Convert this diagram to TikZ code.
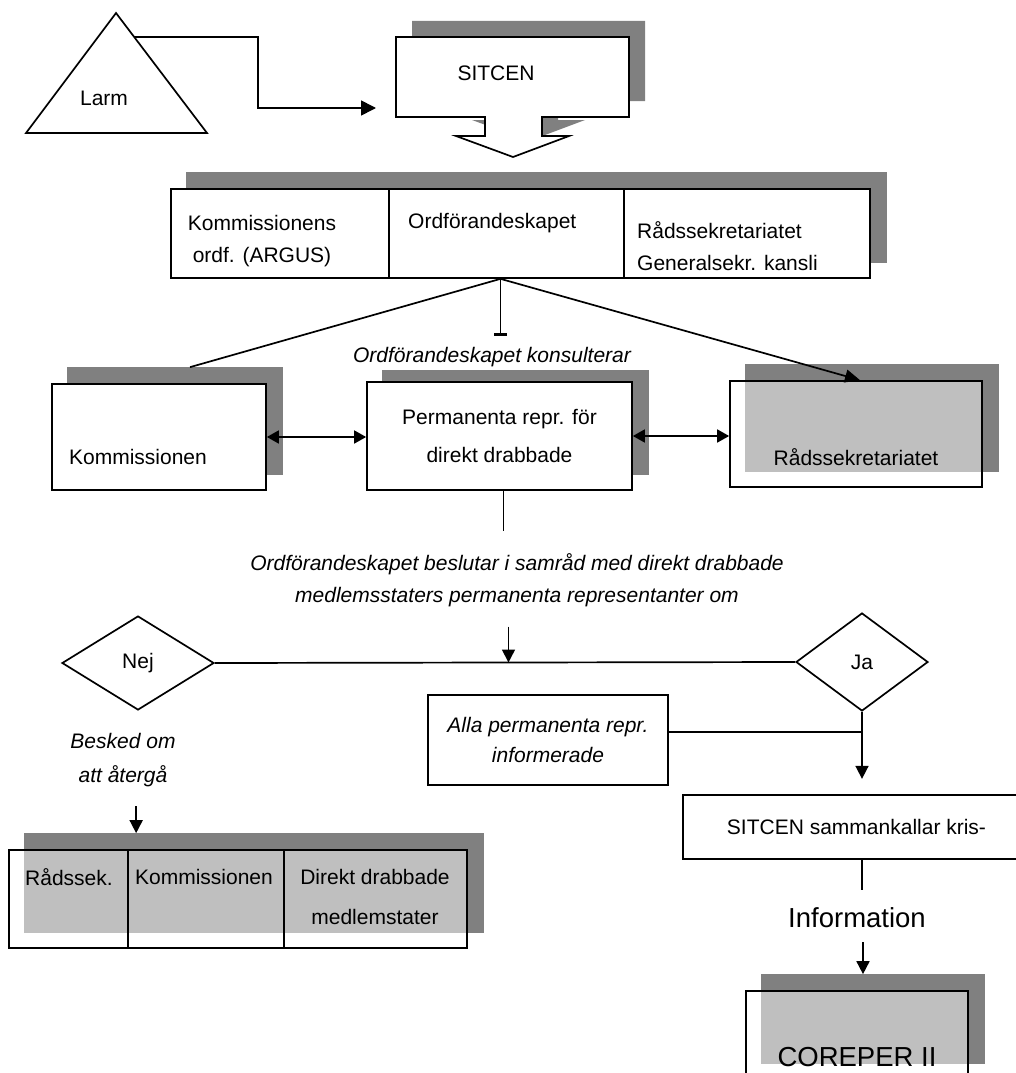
\documentclass[tikz,border=0pt]{standalone}
\usepackage{fontspec}
\setmainfont{Liberation Sans}
\definecolor{grey1}{RGB}{128,128,128}
\usetikzlibrary{shapes.geometric, arrows.meta, positioning, calc, backgrounds}

\newcommand{\fsbody}{\fontsize{21}{32}\selectfont}
\newcommand{\fsbig}{\fontsize{27.5}{32}\selectfont}

\tikzset{
  pline/.style={line width=1.7pt},
  parrow/.style={pline, -{Triangle[length=13pt, width=13pt]}},
  pboth/.style={pline, {Triangle[length=12pt, width=13pt]}-{Triangle[length=12pt, width=13pt]}},
  pbox/.style={draw, line width=1.7pt, fill=white, inner sep=0pt},
  pglass/.style={draw, line width=1.7pt, fill=white, fill opacity=0.5, text opacity=1, inner sep=0pt},
  ptext/.style={font=\fsbody, inner sep=0pt, align=center},
  pitext/.style={font=\fsbody\itshape, inner sep=0pt, align=center},
  pdiamond/.style={diamond, draw, line width=1.7pt, fill=white, inner sep=0pt, font=\fsbody},
}

\begin{document}
\begin{tikzpicture}[x=1pt, y=-1pt]
  \useasboundingbox (0,0) rectangle (1016,1073);
  \begin{scope}[on background layer]
    \fill[white] (0,0) rectangle (1016,1073);
  \end{scope}

  % Larm
  \draw[pline] (26,133) -- (116,13) -- (207,133) -- cycle;
  \node[ptext] (larm) at (104,98) {Larm};
  \coordinate (larmout) at ($(116,13)!0.2!(207,133)$);

  % SITCEN med pil
  \begin{scope}[shift={(16,-16)}]
    \fill[grey1] (396,37) -- (629,37) -- (629,117) -- (542,117) -- (542,136) -- (569,136) -- (513,157) -- (456,136) -- (485,136) -- (485,117) -- (396,117) -- cycle;
  \end{scope}
  \draw[pline, fill=white] (396,37) -- (629,37) -- (629,117) -- (542,117) -- (542,136) -- (569,136) -- (513,157) -- (456,136) -- (485,136) -- (485,117) -- (396,117) -- cycle;
  \node[ptext] (sitcen) at (496,73) {SITCEN};
  \coordinate (sitcenin) at (376,108);
  \draw[pline, -{Triangle[length=15pt, width=15pt]}] (larmout) -- ++(124,0) |- (sitcenin);

  % oeversta raden
  \node[pbox, minimum width=218, minimum height=89] (argus) at (280,233.5) {};
  \node[pbox, minimum width=235, minimum height=89] (ordf) at (506.5,233.5) {};
  \node[pbox, minimum width=246, minimum height=89] (gsk) at (747,233.5) {};
  \node[ptext] (argustxt) at (262,241) {Kommissionens\\ordf. (ARGUS)};
  \node[ptext, anchor=west] (ordftxt) at (408,223) {Ordförandeskapet};
  \node[ptext, align=left, anchor=west] (gsktxt) at (637,246.5) {Rådssekretariatet\\Generalsekr. kansli};

  % konsultation
  \node[pbox, minimum width=214, minimum height=106] (komm) at (159,437) {};
  \node[pbox, minimum width=265, minimum height=108, font=\fsbody, align=center] (perm) at (499.5,436) {Permanenta repr. för\\[6pt]direkt drabbade};
  \node[pglass, minimum width=252, minimum height=106] (rads) at (856,434) {};
  \node[ptext] (kommtxt) at (138,457) {Kommissionen};
  \node[ptext] (radstxt) at (856,457) {Rådssekretariatet};
  \node[pitext] (konsult) at (492,357) {Ordförandeskapet konsulterar};

  \coordinate (ordfout) at ($(ordf.south)+(-6,0)$);
  \draw[pline] (ordfout) -- ($(komm.north)+(31,-16)$);
  \draw[pline, -{Bar[width=13pt, line width=2.5pt]}] (ordfout) -- ++(0,57);
  \draw[pline, -{Triangle[length=15pt, width=13pt]}] (ordfout) -- ($(rads.north)+(4,0)$);
  \draw[pboth] (komm.east) -- (komm.east -| perm.west);
  \draw[pboth] (perm.east) -- (perm.east -| rads.west);

  % beslut
  \draw[pline] ($(perm.south)+(4,0)$) -- ++(0,40);
  \node[pitext] (beslut) at (517,580) {Ordförandeskapet beslutar i samråd med direkt drabbade\\medlemsstaters permanenta representanter om};
  \node[pdiamond, minimum width=152, minimum height=94] (nej) at (138,663) {Nej};
  \node[pdiamond, minimum width=132, minimum height=98] (ja) at (862,662) {Ja};
  \draw[pline] (nej.east) -- (ja.west);
  \coordinate (split) at ($(nej.east)!0.506!(ja.west)$);
  \draw[parrow] ($(split)+(0,-36)$) -- (split);

  \node[pbox, minimum width=240, minimum height=90, font=\fsbody\itshape, align=center] (alla) at (548,740) {Alla permanenta repr.\\[-2pt]informerade};
  \draw[parrow] (ja.south) -- ++(0,67);
  \coordinate (allaout) at ($(alla.east)+(0,-8)$);
  \draw[pline] (allaout) -- (allaout -| ja.south);

  % nej
  \node[pitext] (besked) at (123,760) {Besked om\\[2pt]att återgå};
  \node[pglass, minimum width=119, minimum height=98] (rs) at (68.5,899) {};
  \node[pglass, minimum width=156, minimum height=98] (ko) at (206,899) {};
  \node[pglass, minimum width=183, minimum height=98] (dd) at (375.5,899) {};
  \node[ptext] (rstxt) at (69,877) {Rådssek.};
  \node[ptext] (kotxt) at (204,877) {Kommissionen};
  \node[ptext] (ddtxt) at (375,897) {Direkt drabbade\\[8pt]medlemstater};
  \draw[parrow] ($(ko.north west)+(9,-43)$) -- ($(ko.north west)+(9,-16)$);

  % ja
  \node[pbox, minimum width=347, minimum height=64, font=\fsbody] (sitsam) at (856.5,827) {SITCEN sammankallar kris-};
  \draw[pline] (ja.south |- sitsam.south) -- ++(0,30);
  \node[ptext, font=\fsbig] (info) at (857,918) {Information};
  \node[pglass, minimum width=222, minimum height=88] (corep) at (857,1035) {};
  \node[ptext, font=\fsbig] (coreptxt) at (857,1057) {COREPER II};
  \draw[parrow] ($(corep.north)+(6,-48)$) -- ($(corep.north)+(6,-16)$);

  % skuggor
  \begin{scope}[on background layer]
    \fill[grey1] ($(argus.north west)+(16,-16)$) rectangle ($(gsk.south east)+(16,-16)$);
    \fill[grey1] ($(komm.north west)+(16,-16)$) rectangle ($(komm.south east)+(16,-16)$);
    \fill[grey1] ($(perm.north west)+(16,-11)$) rectangle ($(perm.south east)+(16,-16)$);
    \fill[grey1] ($(rads.north west)+(16,-16)$) rectangle ($(rads.south east)+(16,-16)$);
    \fill[grey1] ($(rs.north west)+(16,-16)$) rectangle ($(dd.south east)+(16,-16)$);
    \fill[grey1] ($(corep.north west)+(16,-16)$) rectangle ($(corep.south east)+(16,-16)$);
  \end{scope}
\end{tikzpicture}
\end{document}
